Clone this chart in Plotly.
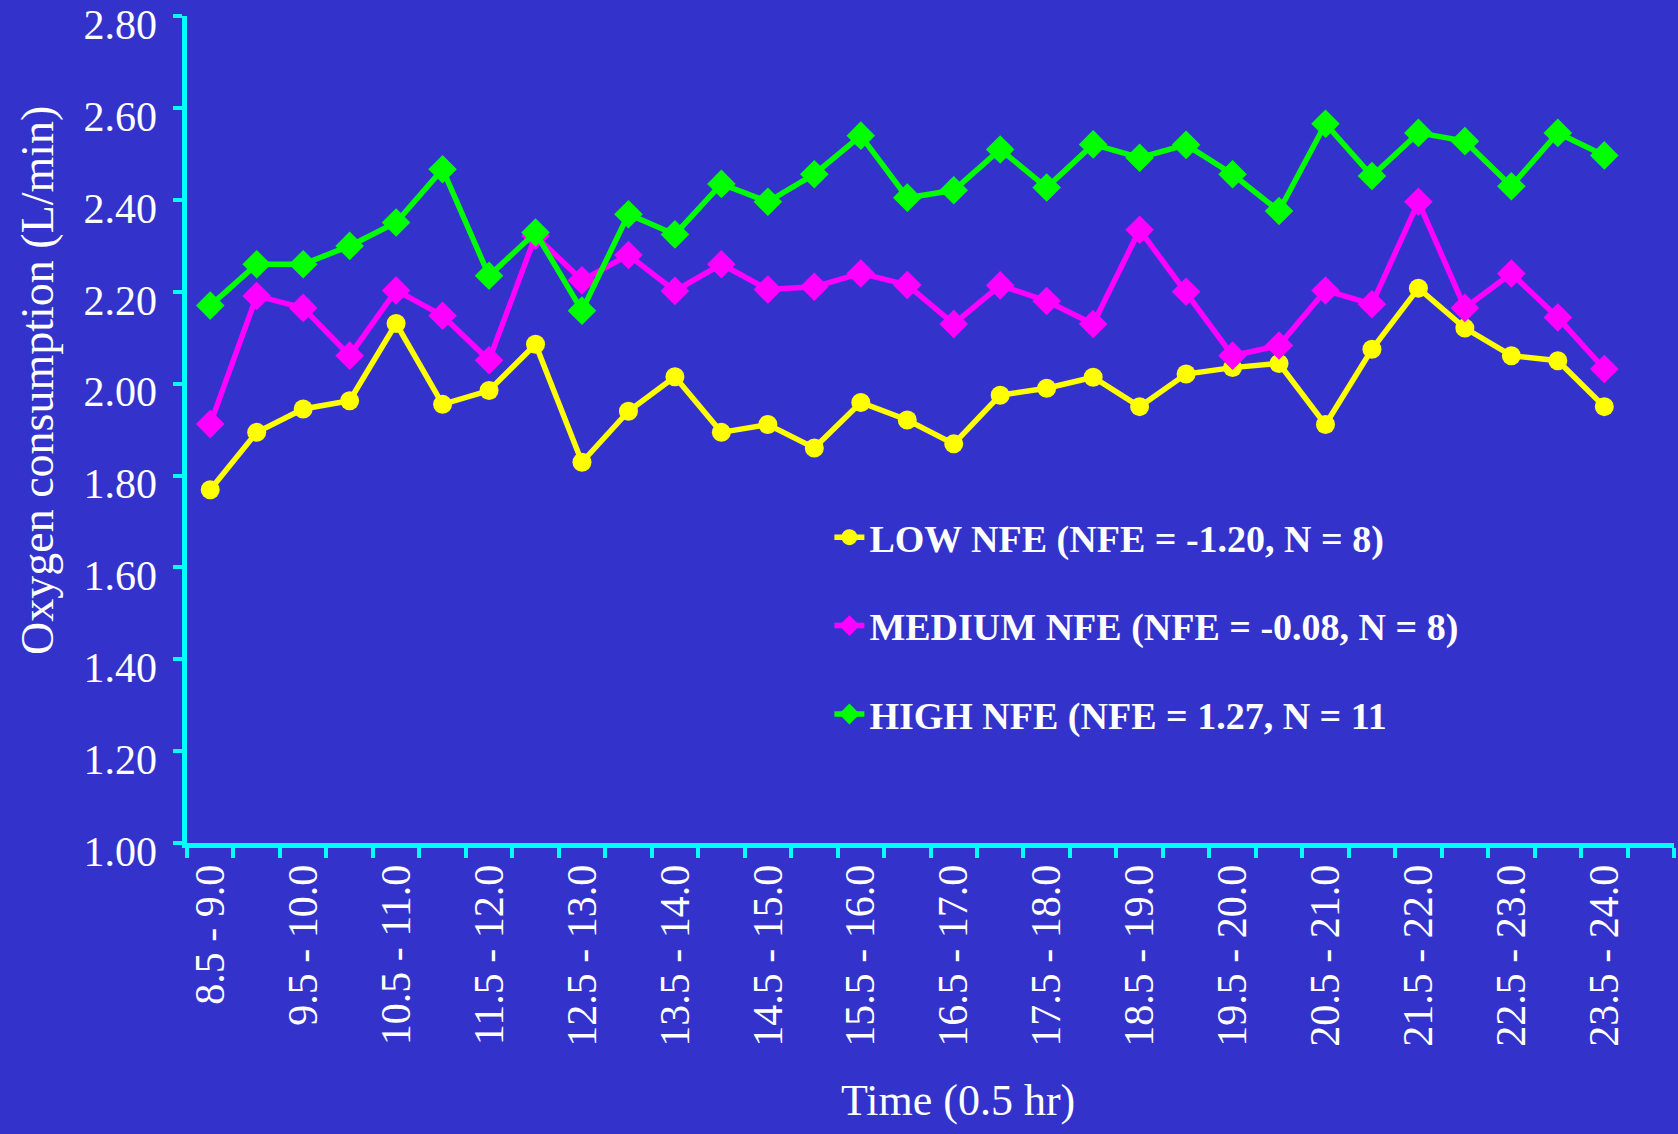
import plotly.graph_objects as go

categories = ["8.5 - 9.0", "9.0 - 9.5", "9.5 - 10.0", "10.0 - 10.5", "10.5 - 11.0", "11.0 - 11.5",
              "11.5 - 12.0", "12.0 - 12.5", "12.5 - 13.0", "13.0 - 13.5", "13.5 - 14.0", "14.0 - 14.5",
              "14.5 - 15.0", "15.0 - 15.5", "15.5 - 16.0", "16.0 - 16.5", "16.5 - 17.0", "17.0 - 17.5",
              "17.5 - 18.0", "18.0 - 18.5", "18.5 - 19.0", "19.0 - 19.5", "19.5 - 20.0", "20.0 - 20.5",
              "20.5 - 21.0", "21.0 - 21.5", "21.5 - 22.0", "22.0 - 22.5", "22.5 - 23.0", "23.0 - 23.5",
              "23.5 - 24.0"]

low_nfe = [1.769, 1.894, 1.945, 1.963, 2.131, 1.955, 1.985, 2.086, 1.829, 1.940,
           2.015, 1.894, 1.911, 1.860, 1.959, 1.921, 1.869, 1.975, 1.990, 2.014,
           1.950, 2.021, 2.035, 2.044, 1.911, 2.075, 2.208, 2.121, 2.061, 2.050,
           1.950]
medium_nfe = [1.912, 2.191, 2.165, 2.061, 2.203, 2.148, 2.051, 2.322, 2.225, 2.280,
              2.202, 2.260, 2.205, 2.211, 2.240, 2.215, 2.130, 2.214, 2.180, 2.130,
              2.335, 2.200, 2.061, 2.083, 2.203, 2.173, 2.396, 2.165, 2.240, 2.144,
              2.032]
high_nfe = [2.170, 2.260, 2.260, 2.300, 2.351, 2.467, 2.235, 2.329, 2.159, 2.369,
            2.325, 2.435, 2.396, 2.456, 2.540, 2.405, 2.421, 2.510, 2.427, 2.521,
            2.492, 2.520, 2.456, 2.376, 2.566, 2.452, 2.546, 2.528, 2.430, 2.546,
            2.497]

series_names = ["LOW NFE (NFE = -1.20, N = 8)",
                "MEDIUM NFE (NFE = -0.08, N = 8)",
                "HIGH NFE (NFE = 1.27, N = 11"]

y_ticks = [1.0, 1.2, 1.4, 1.6, 1.8, 2.0, 2.2, 2.4, 2.6, 2.8]

BG = "#3333CC"
CYAN = "#00FFFF"
SERIF = "Liberation Serif, Times New Roman, serif"

W, H = 1678, 1134
M_L, M_R, M_T, M_B = 187, 4, 16, 291
EXTRA = 24  # extra room below the axis for the label-only axis
plot_h = H - M_T - (M_B - EXTRA)

x_idx = list(range(len(categories)))
n_slots = len(categories) + 1  # one empty slot at the right end of the axis

Y_RANGE = [1.0, 2.8005]
main_dom0 = EXTRA / plot_h
units_per_px = (Y_RANGE[1] - Y_RANGE[0]) / (plot_h - EXTRA)
LABEL_SHIFT = 8 * units_per_px  # labels sit slightly below their tick marks, as in the original
label_range = [Y_RANGE[0] + LABEL_SHIFT - EXTRA * units_per_px, Y_RANGE[1] + LABEL_SHIFT]

fig = go.Figure()
styles = [
    (low_nfe, "#FFFF00", "circle", 19),
    (medium_nfe, "#FF00FF", "diamond", 22),
    (high_nfe, "#00FF00", "diamond", 22),
]
for (vals, color, sym, msize), name in zip(styles, series_names):
    fig.add_trace(go.Scatter(
        x=x_idx, y=vals, name=name, mode="lines+markers",
        line=dict(color=color, width=5.5),
        marker=dict(color=color, symbol=sym, size=msize),
        legendgroup=name,
    ))
# empty trace that only carries the tick-label axis
fig.add_trace(go.Scatter(x=[None], y=[None], yaxis="y2", mode="markers",
                         showlegend=False, hoverinfo="skip"))

fig.update_layout(
    width=W, height=H,
    paper_bgcolor=BG, plot_bgcolor="rgba(0,0,0,0)",
    margin=dict(l=M_L, r=M_R, t=M_T, b=M_B - EXTRA, autoexpand=False),
    font=dict(family=SERIF, color="white", size=42),
    showlegend=True,
    legend=dict(
        x=0.432, y=1 - (506 - M_T) / plot_h, xanchor="left", yanchor="top",
        bgcolor="rgba(0,0,0,0)", borderwidth=0,
        font=dict(family=SERIF, size=38, color="white", weight="bold"),
        tracegroupgap=36, traceorder="grouped",
    ),
    xaxis=dict(
        range=[-0.5, n_slots - 0.5],
        anchor="y",
        tickmode="array",
        tickvals=x_idx[::2],
        ticktext=categories[::2],
        tickangle=-90,
        ticks="",
        showline=True, linecolor=CYAN, linewidth=5,
        showgrid=False, zeroline=False, automargin=False,
        tickfont=dict(family=SERIF, size=42, color="white"),
        minor=dict(tickmode="linear", tick0=-0.5, dtick=1, ticks="outside",
                   ticklen=10, tickwidth=4, tickcolor=CYAN, showgrid=False),
    ),
    yaxis=dict(
        range=Y_RANGE,
        domain=[main_dom0, 1],
        tickmode="array",
        tickvals=y_ticks,
        showticklabels=False,
        ticks="outside", ticklen=9, tickwidth=4, tickcolor=CYAN,
        showline=True, linecolor=CYAN, linewidth=5,
        showgrid=False, zeroline=False, automargin=False,
    ),
    yaxis2=dict(
        side="left", anchor="x",
        domain=[0, 1],
        range=label_range,
        tickmode="array",
        tickvals=y_ticks,
        ticktext=[f"{v:.2f}" for v in y_ticks],
        ticks="", showline=False, showgrid=False, zeroline=False, automargin=False,
        tickfont=dict(family=SERIF, size=42, color="white"),
        ticklabelstandoff=29,
        ticklabeloverflow="allow",
    ),
    annotations=[
        dict(text="Oxygen consumption (L/min)", xref="paper", yref="paper",
             x=-0.1009, y=1 - (380 - M_T) / plot_h, xanchor="center", yanchor="middle",
             textangle=-90, showarrow=False,
             font=dict(family=SERIF, size=46, color="white")),
        dict(text="Time (0.5 hr)", xref="paper", yref="paper",
             x=0.5185, y=1 - (1100 - M_T) / plot_h, xanchor="center", yanchor="middle",
             showarrow=False, font=dict(family=SERIF, size=44, color="white")),
    ],
)

fig.write_html("out.html", config={"displayModeBar": False},
               post_script="document.body.style.margin='0';")
